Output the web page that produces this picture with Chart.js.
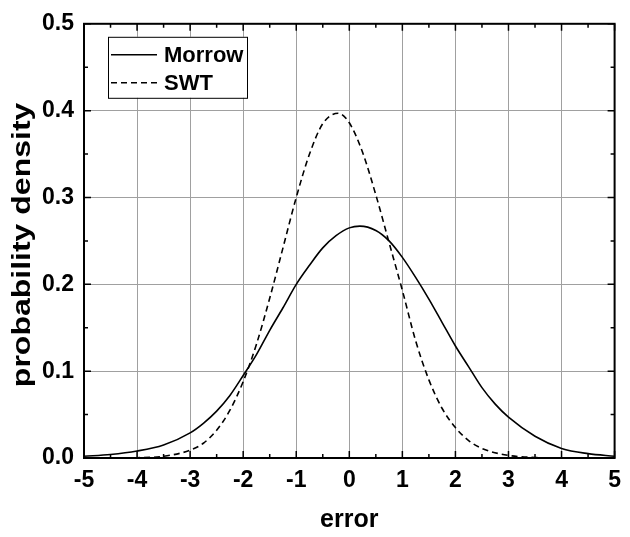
<!DOCTYPE html>
<html>
<head>
<meta charset="utf-8">
<script src="https://cdn.jsdelivr.net/npm/chart.js@4/dist/chart.umd.min.js"></script>
<style>
  body { margin: 0; background: #fff; }
  #wrap { width: 630px; height: 537px; }
</style>
</head>
<body>
<div id="wrap"><canvas id="pdfChart" width="630" height="537"></canvas></div>
<script>
const morrowX = [-5, -4.5, -4, -3.5, -3, -2.75, -2.5, -2.25, -2, -1.75, -1.5, -1.25, -1, -0.75, -0.5, -0.25, 0, 0.2, 0.5, 0.75, 1, 1.25, 1.5, 1.75, 2, 2.25, 2.5, 2.75, 3, 3.5, 4, 4.5, 5]
const morrowY = [0.002, 0.004, 0.008, 0.015, 0.029, 0.04, 0.054, 0.072, 0.095, 0.119, 0.147, 0.173, 0.2, 0.222, 0.242, 0.256, 0.265, 0.267, 0.262, 0.25, 0.231, 0.208, 0.183, 0.156, 0.129, 0.105, 0.081, 0.062, 0.047, 0.025, 0.011, 0.005, 0.002]

const swtX = [-5, -4.5, -4, -3.5, -3, -2.75, -2.5, -2.25, -2, -1.75, -1.5, -1.25, -1, -0.75, -0.5, -0.21, 0, 0.25, 0.5, 0.75, 1, 1.25, 1.5, 1.75, 2, 2.25, 2.5, 3, 3.5, 4, 4.5, 5]
const swtY = [0, 0, 0.0003, 0.002, 0.009, 0.017, 0.032, 0.055, 0.088, 0.131, 0.184, 0.242, 0.3, 0.35, 0.385, 0.397, 0.386, 0.352, 0.303, 0.248, 0.193, 0.135, 0.09, 0.057, 0.035, 0.02, 0.011, 0.003, 0.0006, 0.0001, 0, 0]

const xTicks = [-5, -4, -3, -2, -1, 0, 1, 2, 3, 4, 5]
const yTicks = [0.0, 0.1, 0.2, 0.3, 0.4, 0.5]
const yTitle = "probability density"

const fontFamily = "'Liberation Sans', Arial, sans-serif"
const labelFont = {family: fontFamily, size: 23, weight: "bold"}
const titleFont = {family: fontFamily, size: 25, weight: "bold"}

const toPoints = (xs, ys) => xs.map((x, i) => ({x: x, y: ys[i]}))

// inside tick marks on all four sides + frame
const frameTicks = {
    id: "frameTicks",
    afterDraw(chart) {
        const {ctx, chartArea: a, scales} = chart
        ctx.save()
        ctx.strokeStyle = "#000"
        ctx.lineWidth = 1.5
        ctx.beginPath()
        for (let v = -5; v <= 5.001; v += 0.5) {
            const px = scales.x.getPixelForValue(v)
            const len = Math.abs(v % 1) < 0.01 ? 7 : 4
            ctx.moveTo(px, a.bottom); ctx.lineTo(px, a.bottom - len)
            ctx.moveTo(px, a.top); ctx.lineTo(px, a.top + len)
        }
        for (let v = 0; v <= 0.5001; v += 0.05) {
            const py = scales.y.getPixelForValue(v)
            const len = Math.round(v * 100) % 10 === 0 ? 7 : 4
            ctx.moveTo(a.left, py); ctx.lineTo(a.left + len, py)
            ctx.moveTo(a.right, py); ctx.lineTo(a.right - len, py)
        }
        ctx.stroke()
        ctx.lineWidth = 2
        ctx.strokeRect(a.left, a.top, a.right - a.left, a.bottom - a.top)

        // y title, drawn a bit stretched like the original
        ctx.fillStyle = "#000"
        ctx.font = "bold 25px " + fontFamily
        ctx.textAlign = "center"
        ctx.textBaseline = "middle"
        ctx.translate(23, (a.top + a.bottom) / 2 + 4)
        ctx.rotate(-Math.PI / 2)
        ctx.scale(1.28, 1)
        ctx.fillText(yTitle, 0, 0)
        ctx.restore()
    }
}

// boxed legend in the upper left of the plot
const boxLegend = {
    id: "boxLegend",
    afterDraw(chart) {
        const {ctx, chartArea: a} = chart
        const bx = a.left + 24, by = a.top + 13, bw = 139, bh = 61
        ctx.save()
        ctx.fillStyle = "#fff"
        ctx.fillRect(bx, by, bw, bh)
        ctx.strokeStyle = "#000"
        ctx.lineWidth = 1
        ctx.strokeRect(bx + 0.5, by + 0.5, bw, bh)
        ctx.font = "bold 22px " + fontFamily
        ctx.textBaseline = "middle"
        chart.data.datasets.forEach((ds, i) => {
            const y = by + 18 + i * 28
            ctx.beginPath()
            ctx.lineWidth = 1.5
            ctx.setLineDash(ds.borderDash || [])
            ctx.moveTo(bx + 3, y)
            ctx.lineTo(bx + 49, y)
            ctx.stroke()
            ctx.setLineDash([])
            ctx.fillStyle = "#000"
            ctx.fillText(ds.label, bx + 56, y + 1)
        })
        ctx.restore()
    }
}

new Chart(document.getElementById("pdfChart"), {
    type: "scatter",
    data: {
        datasets: [
            {
                label: "Morrow",
                data: toPoints(morrowX, morrowY),
                showLine: true,
                borderColor: "#000",
                borderWidth: 1.6,
                pointRadius: 0,
                cubicInterpolationMode: "monotone"
            },
            {
                label: "SWT",
                data: toPoints(swtX, swtY),
                showLine: true,
                borderColor: "#000",
                borderWidth: 1.6,
                borderDash: [6, 4],
                pointRadius: 0,
                cubicInterpolationMode: "monotone"
            }
        ]
    },
    options: {
        responsive: false,
        animation: false,
        layout: {padding: {top: 22, right: 8, left: 0, bottom: 0}},
        plugins: {legend: {display: false}, tooltip: {enabled: false}},
        scales: {
            x: {
                type: "linear",
                min: -5,
                max: 5,
                afterBuildTicks: (scale) => { scale.ticks = xTicks.map(v => ({value: v})) },
                afterFit: (scale) => { scale.height = 79 },
                grid: {color: "#a0a0a0", lineWidth: 1, drawTicks: false},
                border: {display: false},
                ticks: {color: "#000", font: labelFont, padding: 9, maxRotation: 0},
                title: {display: true, text: "error", color: "#000", font: titleFont, padding: {top: 2, bottom: 2}}
            },
            y: {
                type: "linear",
                min: 0,
                max: 0.5,
                afterBuildTicks: (scale) => { scale.ticks = yTicks.map(v => ({value: v})) },
                afterFit: (scale) => { scale.width = 84 },
                grid: {color: "#a0a0a0", lineWidth: 1, drawTicks: false},
                border: {display: false},
                ticks: {color: "#000", font: labelFont, padding: 10, callback: (v) => v.toFixed(1)},
                title: {display: false}
            }
        }
    },
    plugins: [frameTicks, boxLegend]
})
</script>
</body>
</html>
